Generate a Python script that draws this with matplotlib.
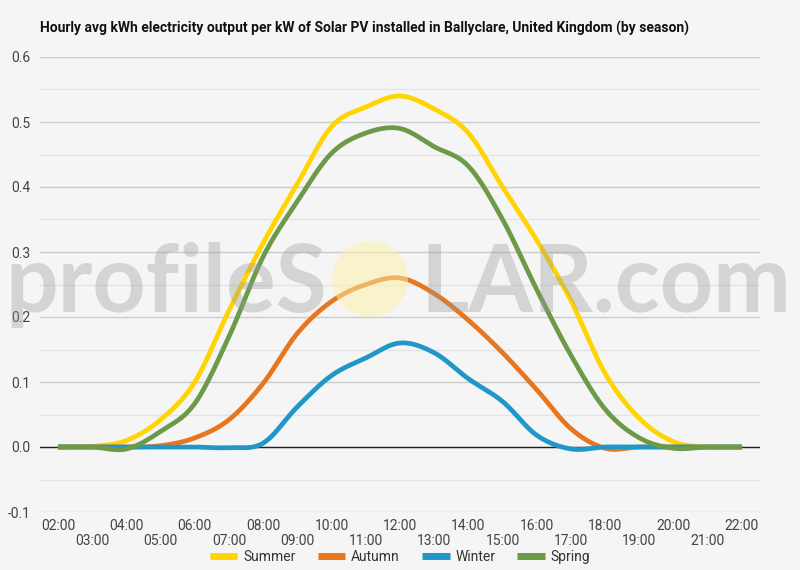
import numpy as np
import matplotlib
matplotlib.use("Agg")
import matplotlib.pyplot as plt
from matplotlib.patches import Ellipse

plt.rcParams['font.family'] = ['Roboto', 'DejaVu Sans']

# hourly values
hours = list(range(2, 23))
hour_labels = [f"{h:02d}:00" for h in hours]
summer = [0.0, 0.001, 0.01, 0.042, 0.10, 0.21, 0.314, 0.405, 0.493, 0.523, 0.54,
          0.52, 0.483, 0.40, 0.318, 0.225, 0.113, 0.044, 0.008, 0.0, 0.0]
autumn = [0.0, 0.0, 0.0, 0.002, 0.014, 0.042, 0.098, 0.175, 0.224, 0.25, 0.26,
          0.236, 0.195, 0.145, 0.088, 0.028, -0.002, 0.0, 0.0, 0.0, 0.0]
winter = [0.0, 0.0, 0.0, 0.0, 0.0, -0.001, 0.006, 0.062, 0.11, 0.137, 0.16,
          0.145, 0.105, 0.07, 0.018, -0.003, 0.0, 0.0, 0.0, 0.0, 0.0]
spring = [0.0, 0.0, -0.003, 0.024, 0.067, 0.17, 0.293, 0.378, 0.452, 0.483, 0.49,
          0.462, 0.432, 0.35, 0.242, 0.141, 0.058, 0.014, -0.002, 0.0, 0.0]

series = [("Summer", summer, "#ffd400"),
          ("Autumn", autumn, "#e8761e"),
          ("Winter", winter, "#2097c9"),
          ("Spring", spring, "#6b9a49")]


def smooth(x, y, n=24):
    """Catmull-Rom spline through the hourly points."""
    x = np.asarray(x, float)
    y = np.asarray(y, float)
    p = np.concatenate([[y[0]], y, [y[-1]]])
    xs, ys = [], []
    t = np.linspace(0, 1, n, endpoint=False)
    for i in range(len(y) - 1):
        p0, p1, p2, p3 = p[i], p[i + 1], p[i + 2], p[i + 3]
        seg = 0.5 * (2 * p1 + (-p0 + p2) * t + (2 * p0 - 5 * p1 + 4 * p2 - p3) * t ** 2
                     + (-p0 + 3 * p1 - 3 * p2 + p3) * t ** 3)
        xs.append(x[i] + (x[i + 1] - x[i]) * t)
        ys.append(seg)
    xs.append([x[-1]])
    ys.append([y[-1]])
    return np.concatenate(xs), np.concatenate(ys)


bg = "#f5f5f5"
fig = plt.figure(figsize=(8, 5.7), dpi=100, facecolor=bg)
ax = fig.add_axes([0.05, 1 - 512 / 570, 0.90, (512 - 57) / 570])
ax.set_facecolor(bg)

for name, vals, col in series:
    sx, sy = smooth(hours, vals)
    ax.plot(sx, sy, color=col, lw=3.4, label=name, solid_capstyle='butt', zorder=3)

ax.set_xlim(2 - 18 / 34.2, 22 + 18 / 34.2)
ax.set_ylim(-0.1, 0.6)

yt = np.round(np.arange(-0.1, 0.61, 0.1), 1)
ax.set_yticks(yt)
ax.set_yticklabels([f"{v:.1f}" for v in yt])
ax.set_yticks(np.arange(-0.05, 0.6, 0.1), minor=True)
ax.grid(axis='y', which='major', color='#cccccc', lw=1, zorder=0)
ax.grid(axis='y', which='minor', color='#e4e4e4', lw=1, zorder=0)
ax.axhline(0, color='#222222', lw=1, zorder=2)

ax.set_xticks(hours[::2])
ax.set_xticklabels(hour_labels[::2])
ax.set_xticks(hours[1::2], minor=True)
ax.set_xticklabels(hour_labels[1::2], minor=True)
ax.tick_params(axis='x', which='major', length=0, pad=5, labelsize=10, labelcolor='#444444')
ax.tick_params(axis='x', which='minor', length=0, pad=16, labelsize=10, labelcolor='#444444')
ax.tick_params(axis='y', which='both', length=0, pad=7, labelsize=10, labelcolor='#444444')
for s in ax.spines.values():
    s.set_visible(False)

# watermark
wm = dict(fontsize=67, fontweight='bold', color='#9a9a9a', alpha=0.36,
          va='baseline', zorder=5, family=['Lato', 'DejaVu Sans'])
fig.text(327 / 800, 1 - 312 / 570, "profileS", ha='right', **wm)
fig.text(420 / 800, 1 - 312 / 570, "LAR.com", ha='left', **wm)
fig.patches.append(Ellipse((370 / 800, 1 - 279 / 570), 76 / 800, 76 / 570,
                           transform=fig.transFigure, facecolor='#fdf3a6',
                           edgecolor='none', alpha=0.5, zorder=5))

fig.text(40 / 800, 1 - 28 / 570,
         "Hourly avg kWh electricity output per kW of Solar PV installed in Ballyclare, United Kingdom (by season)",
         ha='left', va='center', fontsize=10, fontweight='bold', color='#111111')

fig.legend(loc='center', bbox_to_anchor=(0.5, 1 - 557 / 570), ncol=4, frameon=False,
           fontsize=10, handlelength=2.0, handletextpad=0.4, columnspacing=1.6,
           labelcolor='#333333')
for lh in fig.legends[0].get_lines():
    lh.set_linewidth(5)

fig.savefig("out.png", dpi=100, facecolor=bg)
